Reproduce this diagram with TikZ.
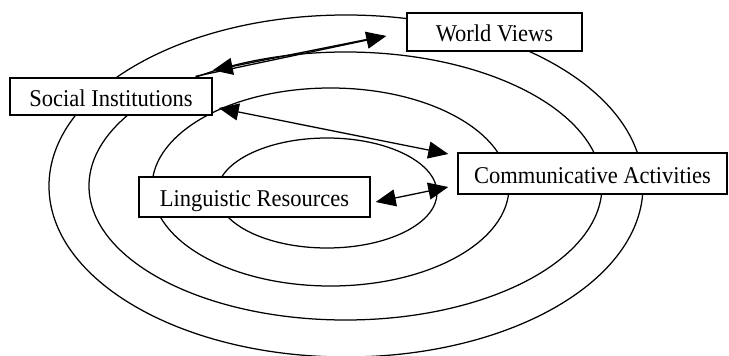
\documentclass[tikz,border=0pt]{standalone}
\usepackage{fontspec}
\setmainfont{Liberation Serif}
\usetikzlibrary{arrows.meta}

\newcommand{\tallcaps}[1]{\scalebox{1}[1.07]{#1}}

\tikzset{
  ring/.style={line width=1.25pt},
  label box/.style={draw, fill=white, line width=1.4pt, inner sep=0pt,
    text height=20pt, text depth=1pt,
    font=\fontsize{22.5}{26}\selectfont},
  tip/.style={Triangle[length=20pt,width=17pt]},
  link/.style={line width=1.3pt, -{Triangle[length=20pt,width=17pt]}},
  biglink/.style={line width=1.3pt, {Triangle[length=20pt,width=17pt]}-{Triangle[length=20pt,width=17pt]}}
}

\begin{document}
\begin{tikzpicture}[x=1pt,y=-1pt]
  \useasboundingbox (0,0) rectangle (729,356);

  % nested spheres
  \draw[ring] (346,186) ellipse [x radius=297pt, y radius=171pt];
  \draw[ring] (345.5,186) ellipse [x radius=256.5pt, y radius=134pt];
  \draw[ring] (330.5,187) ellipse [x radius=178.5pt, y radius=99pt];
  \draw[ring] (327,193) ellipse [x radius=110pt, y radius=55pt];

  % labels
  \node[label box, minimum width=175pt, minimum height=38pt] (wv) at (494.5,32) {\tallcaps{World Views}};
  \node[label box, minimum width=202pt, minimum height=37pt] (si) at (111,96.5) {\tallcaps{Social Institutions}};
  \node[label box, minimum width=269pt, minimum height=41pt] (ca) at (592.5,173.5) {\tallcaps{Communicative Activities}};
  \node[label box, minimum width=231pt, minimum height=40pt] (lr) at (254.5,197) {\tallcaps{Linguistic Resources}};

  % relations
  \coordinate (siA) at ([shift={(-17,-1)}]si.north east);
  \coordinate (wvA) at ([shift={(-20,4)}]wv.west);
  \coordinate (wvB) at ([shift={(-22,4)}]wv.west);
  \coordinate (siB) at ([shift={(0,-7)}]si.north east);
  \draw[link] (siA) -- (wvA);
  \draw[link] (wvB) -- (siB);

  \draw[biglink] ([shift={(6,11.5)}]si.east) -- ([shift={(-9,-19.5)}]ca.west);
  \draw[biglink] ([shift={(5,5)}]lr.east) -- ([shift={(-9,13.5)}]ca.west);
\end{tikzpicture}
\end{document}
